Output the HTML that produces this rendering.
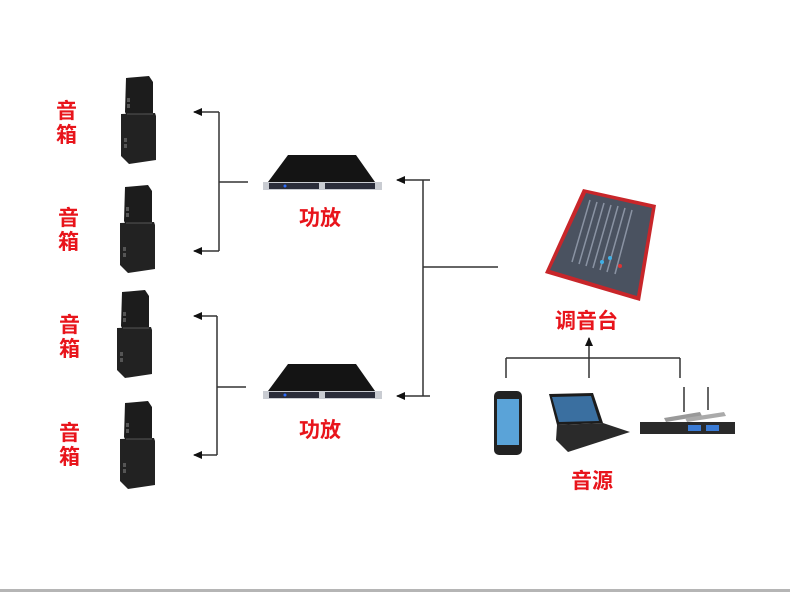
<!DOCTYPE html>
<html><head><meta charset="utf-8"><style>
html,body{margin:0;padding:0;background:#fff;}
svg{display:block}
text{font-family:"Liberation Sans","Noto Sans CJK SC",sans-serif;fill:#e8141b;font-weight:bold;font-size:21px}
</style></head><body>
<svg width="790" height="592" viewBox="0 0 790 592" xmlns="http://www.w3.org/2000/svg">
<defs>
<g id="spk">
  <path d="M5,0 L28,-2 L32,4 L32,36 L6,38 L4,34 Z" fill="#1c1c1c"/>
  <path d="M0,36 L34,35 L35,38 L35,82 L8,86 L0,78 Z" fill="#222"/>
  <path d="M6,36 L32,36" stroke="#555" stroke-width="1"/>
  <rect x="6" y="20" width="3" height="4" fill="#555"/><rect x="6" y="26" width="3" height="4" fill="#555"/>
  <rect x="3" y="60" width="3" height="4" fill="#555"/><rect x="3" y="66" width="3" height="4" fill="#555"/>
</g>
<g id="amp">
  <path d="M25,0 L93,0 L112,27 L5,27 Z" fill="#141414"/>
  <rect x="0" y="27" width="119" height="8" fill="#c9ccd2"/>
  <rect x="6" y="28" width="50" height="6" fill="#2a2d3a"/>
  <rect x="62" y="28" width="50" height="6" fill="#2a2d3a"/>
  <circle cx="22" cy="31" r="1.5" fill="#2a6cff"/>
</g>
<marker id="ah" markerWidth="9" markerHeight="8" refX="8" refY="4" orient="auto" markerUnits="userSpaceOnUse">
  <path d="M0,0 L9,4 L0,8 Z" fill="#111"/>
</marker>
</defs>

<use href="#spk" x="121" y="78"/>
<use href="#spk" x="120" y="187"/>
<use href="#spk" x="117" y="292"/>
<use href="#spk" x="120" y="403"/>

<text x="56" y="118">音</text><text x="56" y="142">箱</text>
<text x="58" y="225">音</text><text x="58" y="249">箱</text>
<text x="59" y="332">音</text><text x="59" y="356">箱</text>
<text x="59" y="440">音</text><text x="59" y="464">箱</text>

<g stroke="#333" stroke-width="1.5" fill="none">
  <path d="M219,112 V251 M219,182 H248"/>
  <path d="M219,112 H194" marker-end="url(#ah)"/>
  <path d="M219,251 H194" marker-end="url(#ah)"/>
  <path d="M217,316 V455 M217,387 H246"/>
  <path d="M217,316 H194" marker-end="url(#ah)"/>
  <path d="M217,455 H194" marker-end="url(#ah)"/>
  <path d="M423,180 V396 M423,267 H498"/>
  <path d="M430,180 H397" marker-end="url(#ah)"/>
  <path d="M430,396 H397" marker-end="url(#ah)"/>
  <path d="M506,358 H680 M506,358 V378 M680,358 V378"/>
  <path d="M589,378 V338" marker-end="url(#ah)"/>
</g>

<use href="#amp" x="263" y="155"/>
<use href="#amp" x="263" y="364"/>
<text x="299" y="225">功放</text>
<text x="299" y="437">功放</text>

<path d="M583,189 L656,205 L640,301 L545,273 Z" fill="#c8262a"/>
<path d="M586,193 L652,208 L637,296 L550,270 Z" fill="#4a5260"/>
<g stroke="#8a93a3" stroke-width="1.5">
  <path d="M590,200 L572,262 M597,202 L579,264 M604,203 L586,266 M611,205 L593,268 M618,206 L600,270 M625,208 L607,272 M632,210 L615,274"/>
</g>
<circle cx="602" cy="262" r="2" fill="#3fb0e6"/><circle cx="610" cy="258" r="2" fill="#3fb0e6"/><circle cx="620" cy="266" r="2" fill="#d33"/>
<text x="555" y="328">调音台</text>

<rect x="494" y="391" width="28" height="64" rx="5" fill="#222"/>
<rect x="497" y="399" width="22" height="46" fill="#5aa3d8"/>
<path d="M549,394 L593,393 L603,423 L557,425 Z" fill="#1c1c1c"/>
<path d="M552,397 L591,396 L599,421 L559,422 Z" fill="#3a6fa0"/>
<path d="M557,425 L603,423 L630,432 L568,452 L556,440 Z" fill="#2a2a2a"/>
<path d="M684,387 V412 M708,387 V410" stroke="#333" stroke-width="1.5"/>
<path d="M664,418 L700,412 L702,416 L666,422 Z" fill="#999"/>
<path d="M685,418 L724,412 L726,416 L687,422 Z" fill="#aaa"/>
<rect x="640" y="422" width="95" height="12" fill="#2a2a2a"/>
<rect x="688" y="425" width="13" height="6" fill="#3a7bd5"/>
<rect x="706" y="425" width="13" height="6" fill="#3a7bd5"/>
<text x="571" y="488">音源</text>

<rect x="0" y="589" width="790" height="3" fill="#b5b5b5"/>
</svg>
</body></html>
